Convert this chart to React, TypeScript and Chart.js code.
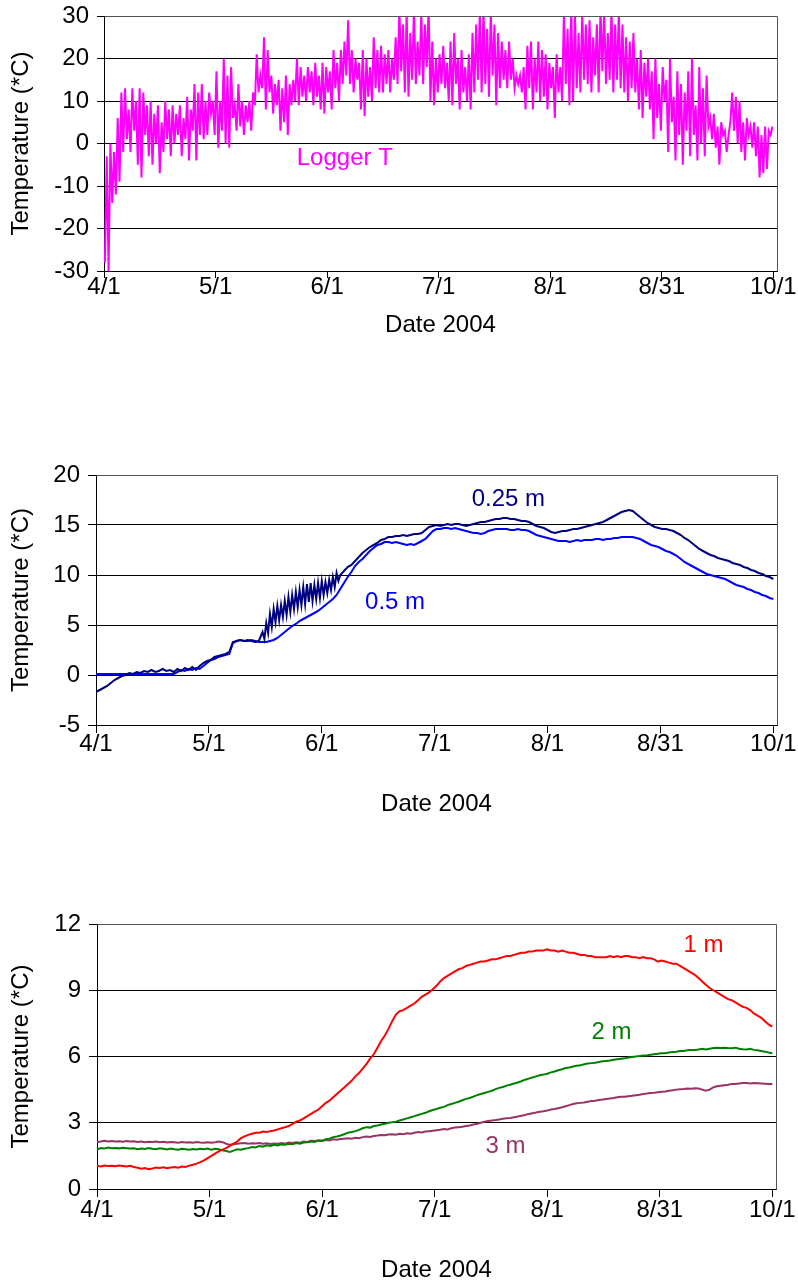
import React, { useEffect, useRef } from "react";
import { Chart, registerables } from "chart.js";

Chart.register(...registerables);

// ---- shared x axis (days since 4/1/2004) ----
const TICK_DAYS = [0, 30.5, 61, 91.5, 122, 152.5, 183];
const TICK_LABELS = ["4/1", "5/1", "6/1", "7/1", "8/1", "8/31", "10/1"];
const X_MAX = 184;

// ---- chart 1: logger air temperature, daily lows and highs (°C) ----
const LOGGER_HIGH = [
  -3, 0, -2, 6, 12, 13, 8, 13, 10, 13,
  12, 9, 10, 7, 9, 5, 10, 8, 9, 7,
  9, 6, 11, 8, 14, 12, 14, 10, 12, 10,
  17, 10, 20, 16, 18, 9, 14, 10, 9, 10,
  12, 21, 16, 25, 22, 16, 14, 15, 13, 16,
  14, 15, 20, 18, 16, 18, 17, 19, 16, 19,
  18, 17, 22, 19, 22, 24, 29, 22, 20, 19,
  22, 20, 18, 25, 22, 23, 21, 22, 20, 25,
  32, 28, 31, 26, 32, 24, 31, 28, 32, 24,
  20, 21, 23, 19, 24, 26, 20, 22, 18, 21,
  26, 28, 31, 32, 27, 31, 28, 26, 24, 22,
  24, 20, 16, 16, 18, 23, 24, 20, 24, 22,
  21, 19, 18, 21, 18, 31, 27, 32, 31, 26,
  31, 28, 29, 25, 28, 32, 31, 26, 32, 28,
  31, 28, 25, 24, 26, 20, 22, 19, 20, 17,
  20, 14, 18, 15, 20, 11, 17, 14, 12, 17,
  20, 9, 18, 13, 16, 6, 7, 4, 5, 3,
  2, 12, 11, 10, 5, 6, 4, 5, 4, 2,
  4, 3, 4,
];
const LOGGER_LOW = [
  -28, -30, -14, -12, -9, -2, 1, -2, 3, -5,
  -8, 2, -3, -5, 0, -7, -2, 1, -3, 0,
  2, -3, 1, -4, 3, -4, 2, 1, 2, 7,
  2, -1, 3, 0, -1, 6, 3, 4, 2, 5,
  3, 9, 12, 13, 8, 12, 7, 9, 3, 5,
  2, 9, 10, 9, 11, 10, 12, 9, 11, 8,
  7, 12, 8, 13, 10, 14, 16, 14, 12, 15,
  8, 6.5, 11, 10, 13, 12, 12, 14, 12, 15,
  14, 17, 12, 11, 15, 14, 16, 14, 18, 10,
  9, 12, 14, 13, 10, 9, 14, 8, 12, 10,
  8, 12, 15, 12, 14, 11, 16, 9, 13, 15,
  13, 15, 13, 14, 12, 8, 13, 8, 12, 10,
  11, 8, 13, 6, 12, 10, 14, 9, 10, 13,
  12, 15, 14, 12, 16, 12, 17, 14, 15, 12,
  15, 13, 12, 10, 13, 12, 8, 6, 11, 8,
  1, 6, 3, 10, -2, 5, -4, 2, -5, 3,
  -3, 2, -4, 0, -3, 4, 1, -1, -5, 2,
  -2, 5, 3, 0, -2, -4, 2, -1, -3, -8,
  -7, -6, 2,
];

// ---- chart 2: soil temperature at 0.25 m and 0.5 m, daily (°C) ----
const T025 = [
  -1.7, -1.5, -1.3, -1.1, -0.8, -0.5, -0.3, -0.1, 0.0, 0.2,
  0.1, 0.3, 0.2, 0.4, 0.3, 0.5, 0.3, 0.4, 0.6, 0.4,
  0.5, 0.3, 0.6, 0.4, 0.7, 0.5, 0.8, 0.5, 0.9, 1.2,
  1.4, 1.5, 1.8, 1.9, 2.0, 2.1, 2.3, 3.3, 3.4, 3.5,
  3.4, 3.5, 3.4, 3.3, 3.4, 4.3, 5.2, 6.1, 6.6, 6.9,
  7.0, 7.4, 7.8, 8.0, 8.3, 8.5, 8.8, 9.1, 9.2, 9.0,
  9.2, 9.4, 9.3, 9.5, 9.8, 10.2, 10.0, 10.4, 10.8, 11.0,
  11.4, 11.8, 12.2, 12.5, 12.8, 13.0, 13.2, 13.5, 13.6, 13.8,
  13.8, 13.9, 13.9, 14.0, 13.9, 14.0, 14.1, 14.1, 14.2, 14.5,
  14.8, 14.9, 15.0, 14.9, 15.0, 15.1, 15.0, 15.1, 15.1, 15.0,
  14.9, 15.0, 15.1, 15.2, 15.3, 15.3, 15.4, 15.5, 15.6, 15.6,
  15.7, 15.7, 15.6, 15.6, 15.5, 15.4, 15.4, 15.3, 15.1, 14.9,
  14.8, 14.7, 14.5, 14.3, 14.2, 14.3, 14.4, 14.4, 14.5, 14.6,
  14.6, 14.7, 14.8, 14.9, 15.0, 15.1, 15.2, 15.3, 15.5, 15.7,
  15.9, 16.1, 16.3, 16.4, 16.5, 16.4, 16.1, 15.8, 15.5, 15.2,
  15.0, 14.8, 14.7, 14.6, 14.6, 14.5, 14.4, 14.2, 14.0, 13.7,
  13.5, 13.2, 12.9, 12.6, 12.4, 12.2, 12.0, 11.9, 11.7, 11.6,
  11.5, 11.4, 11.2, 11.1, 11.0, 10.8, 10.7, 10.5, 10.4, 10.2,
  10.1, 9.9, 9.8, 9.6,
];
// night-time lows of the 0.25 m series during its diurnal swing (days 45..65)
const T025_DIP_START = 45;
const T025_DIP = [
  3.6, 4.2, 4.8, 5.3, 5.5, 5.8, 6.0, 6.3, 6.6, 6.8,
  7.0, 7.1, 7.3, 7.4, 7.6, 7.7, 8.0, 8.2, 8.5, 8.8, 9.4,
];
const T05 = [
  0.1, 0.1, 0.1, 0.1, 0.1, 0.1, 0.1, 0.1, 0.1, 0.1,
  0.1, 0.1, 0.1, 0.1, 0.1, 0.1, 0.1, 0.1, 0.1, 0.1,
  0.1, 0.1, 0.3, 0.5, 0.4, 0.6, 0.5, 0.7, 0.6, 0.9,
  1.2, 1.5, 1.6, 1.8, 1.9, 2.0, 2.1, 3.2, 3.4, 3.5,
  3.4, 3.4, 3.5, 3.4, 3.3, 3.3, 3.3, 3.4, 3.5, 3.7,
  4.0, 4.3, 4.6, 4.9, 5.1, 5.4, 5.6, 5.8, 6.0, 6.2,
  6.4, 6.7, 7.0, 7.3, 7.6, 8.0, 8.6, 9.2, 9.8, 10.3,
  10.9, 11.3, 11.6, 12.0, 12.4, 12.7, 13.0, 13.1, 13.3, 13.3,
  13.2, 13.3, 13.2, 13.1, 13.0, 13.1, 13.0, 13.2, 13.4, 13.6,
  14.0, 14.4, 14.6, 14.6, 14.7, 14.7, 14.6, 14.7, 14.6, 14.5,
  14.4, 14.3, 14.2, 14.2, 14.1, 14.2, 14.4, 14.5, 14.6, 14.6,
  14.6, 14.6, 14.5, 14.5, 14.6, 14.5, 14.5, 14.4, 14.2, 14.0,
  13.9, 13.8, 13.7, 13.6, 13.5, 13.4, 13.4, 13.4, 13.3, 13.4,
  13.5, 13.4, 13.5, 13.5, 13.5, 13.6, 13.6, 13.5, 13.6, 13.6,
  13.7, 13.7, 13.8, 13.8, 13.8, 13.8, 13.7, 13.6, 13.4, 13.2,
  13.0, 12.9, 12.8, 12.6, 12.4, 12.3, 12.1, 11.9, 11.6, 11.3,
  11.1, 10.9, 10.7, 10.5, 10.3, 10.1, 10.0, 9.9, 9.8, 9.7,
  9.6, 9.4, 9.2, 9.0, 8.9, 8.8, 8.6, 8.5, 8.3, 8.2,
  8.0, 7.9, 7.7, 7.6,
];

// ---- chart 3: soil temperature at 1 m, 2 m and 3 m, daily (°C) ----
const T1 = [
  1.05, 1.02, 1.06, 1.04, 1.05, 1.03, 1.06, 1.04, 1.02, 1.05,
  1.0, 0.96, 0.92, 0.95, 0.9, 0.93, 0.97, 0.95, 0.98, 0.94,
  0.97, 1.0, 0.96, 1.02, 1.0, 1.06, 1.1, 1.15, 1.22, 1.3,
  1.4, 1.5, 1.6, 1.7, 1.78, 1.85, 1.95, 2.05, 2.15, 2.3,
  2.38, 2.45, 2.5, 2.55, 2.55, 2.6, 2.58, 2.62, 2.65, 2.7,
  2.75, 2.8, 2.85, 2.95, 3.05, 3.1, 3.2, 3.3, 3.4, 3.5,
  3.6, 3.75, 3.9, 4.0, 4.15, 4.3, 4.45, 4.6, 4.75, 4.9,
  5.1, 5.25, 5.45, 5.65, 5.9, 6.1, 6.4, 6.7, 6.95, 7.25,
  7.6, 7.9, 8.05, 8.1, 8.2, 8.3, 8.4, 8.55, 8.7, 8.8,
  8.9, 9.05, 9.2, 9.4, 9.55, 9.65, 9.75, 9.85, 9.95, 10.0,
  10.1, 10.15, 10.2, 10.25, 10.3, 10.3, 10.35, 10.4, 10.4, 10.45,
  10.5, 10.55, 10.55, 10.6, 10.65, 10.7, 10.7, 10.75, 10.75, 10.8,
  10.8, 10.8, 10.85, 10.8, 10.8, 10.75, 10.8, 10.75, 10.7, 10.7,
  10.65, 10.6, 10.6, 10.55, 10.55, 10.5, 10.5, 10.5, 10.5, 10.55,
  10.5, 10.55, 10.5, 10.55, 10.55, 10.5, 10.5, 10.45, 10.5, 10.45,
  10.45, 10.4, 10.3, 10.35, 10.3, 10.25, 10.2, 10.2, 10.1, 10.0,
  9.9, 9.8, 9.7, 9.55, 9.4, 9.25, 9.1, 9.0, 8.9, 8.8,
  8.7, 8.6, 8.55, 8.45, 8.35, 8.25, 8.2, 8.1, 7.95, 7.85,
  7.75, 7.6, 7.45, 7.35,
];
const T2 = [
  1.78, 1.85, 1.83, 1.88, 1.85, 1.86, 1.84, 1.87, 1.85, 1.83,
  1.84, 1.8, 1.83, 1.81, 1.85, 1.82, 1.8, 1.84, 1.82, 1.79,
  1.83, 1.8, 1.78, 1.82, 1.8, 1.78, 1.81, 1.79, 1.82, 1.8,
  1.83, 1.78, 1.82, 1.8, 1.75, 1.72, 1.68, 1.74, 1.8, 1.78,
  1.82, 1.85, 1.9, 1.88, 1.95, 1.92, 1.98, 1.95, 2.0, 1.97,
  2.02, 2.0, 2.05, 2.03, 2.08, 2.05, 2.1, 2.12, 2.15, 2.13,
  2.2, 2.18, 2.25, 2.28, 2.35, 2.38, 2.42, 2.48, 2.55, 2.58,
  2.62, 2.68, 2.75, 2.8, 2.78, 2.85, 2.88, 2.92, 2.95, 3.0,
  3.02, 3.05, 3.1, 3.15, 3.2, 3.25, 3.3, 3.35, 3.4, 3.45,
  3.52, 3.58, 3.62, 3.68, 3.72, 3.8, 3.85, 3.9, 3.95, 4.02,
  4.08, 4.12, 4.18, 4.25, 4.3, 4.35, 4.4, 4.45, 4.52, 4.58,
  4.62, 4.68, 4.72, 4.78, 4.82, 4.88, 4.95, 5.0, 5.05, 5.1,
  5.15, 5.18, 5.22, 5.28, 5.32, 5.38, 5.42, 5.48, 5.5, 5.55,
  5.58, 5.6, 5.65, 5.68, 5.7, 5.72, 5.75, 5.78, 5.8, 5.82,
  5.85, 5.88, 5.9, 5.92, 5.95, 5.98, 6.0, 6.02, 6.05, 6.05,
  6.08, 6.1, 6.12, 6.15, 6.15, 6.18, 6.2, 6.22, 6.25, 6.25,
  6.28, 6.3, 6.3, 6.32, 6.35, 6.32, 6.35, 6.38, 6.4, 6.38,
  6.4, 6.38, 6.37, 6.4, 6.35, 6.33, 6.32, 6.35, 6.3, 6.28,
  6.25, 6.22, 6.18, 6.15,
];
const T3 = [
  2.12, 2.15, 2.18, 2.15, 2.17, 2.15, 2.16, 2.14, 2.17, 2.15,
  2.16, 2.13, 2.15, 2.12, 2.14, 2.13, 2.15, 2.12, 2.14, 2.11,
  2.13, 2.12, 2.1, 2.13, 2.11, 2.12, 2.1, 2.13, 2.11, 2.1,
  2.12, 2.1, 2.12, 2.15, 2.12, 2.05, 2.0, 2.03, 2.05, 2.07,
  2.08, 2.05, 2.07, 2.06, 2.08, 2.05, 2.07, 2.04, 2.06, 2.05,
  2.08, 2.05, 2.1, 2.08, 2.12, 2.1, 2.15, 2.13, 2.18, 2.17,
  2.2, 2.18, 2.22, 2.2, 2.25, 2.23, 2.26, 2.28, 2.3, 2.28,
  2.32, 2.3, 2.35, 2.38, 2.36, 2.4, 2.42, 2.45, 2.43, 2.47,
  2.48, 2.46, 2.5, 2.48, 2.52, 2.5, 2.55, 2.58, 2.56, 2.6,
  2.62, 2.64, 2.66, 2.68, 2.72, 2.7, 2.75, 2.78, 2.8, 2.82,
  2.85, 2.88, 2.92, 2.95, 3.0, 3.05, 3.08, 3.1, 3.12, 3.15,
  3.18, 3.2, 3.22, 3.25, 3.28, 3.32, 3.35, 3.4, 3.43, 3.46,
  3.5, 3.52, 3.55, 3.6, 3.62, 3.66, 3.7, 3.75, 3.8, 3.85,
  3.88, 3.9, 3.92, 3.95, 3.98, 4.0, 4.03, 4.05, 4.08, 4.1,
  4.12, 4.15, 4.18, 4.18, 4.2, 4.22, 4.25, 4.27, 4.3, 4.32,
  4.35, 4.36, 4.38, 4.4, 4.42, 4.45, 4.47, 4.5, 4.52, 4.53,
  4.55, 4.54, 4.56, 4.55, 4.5, 4.45, 4.5, 4.6, 4.65, 4.68,
  4.7, 4.72, 4.75, 4.76, 4.78, 4.8, 4.8, 4.78, 4.8, 4.79,
  4.78, 4.77, 4.76, 4.75,
];

const FONT = "'Liberation Sans', Arial, Helvetica, sans-serif";
const FONT_SIZE = 24;
const LINE_H = FONT_SIZE * 1.2;

// build {x,y} points
const daily = (vals: number[]) => vals.map((v, i) => ({ x: i, y: v }));
const loggerPoints = () => {
  const pts: { x: number; y: number }[] = [];
  LOGGER_LOW.forEach((lo, d) => {
    pts.push({ x: d + 0.25, y: lo });
    pts.push({ x: d + 0.75, y: LOGGER_HIGH[d] });
  });
  return pts;
};
const t025Points = () => {
  const pts: { x: number; y: number }[] = [];
  T025.forEach((v, d) => {
    pts.push({ x: d, y: v });
    const k = d - T025_DIP_START;
    if (k >= 0 && k < T025_DIP.length) pts.push({ x: d + 0.5, y: T025_DIP[k] });
  });
  return pts;
};

const framePlugin = {
  id: "frame",
  afterDraw(chart: any) {
    const { ctx, chartArea } = chart;
    const r = Math.round(chartArea.right) + 0.5;
    const t = Math.round(chartArea.top) + 0.5;
    const b = Math.round(chartArea.bottom) + 0.5;
    ctx.save();
    ctx.strokeStyle = "#555";
    ctx.lineWidth = 1;
    ctx.beginPath();
    ctx.moveTo(Math.round(chartArea.left) + 0.5, t);
    ctx.lineTo(r, t);
    ctx.lineTo(r, b);
    ctx.stroke();
    ctx.restore();
  },
};

const labelPlugin = {
  id: "seriesLabels",
  afterDatasetsDraw(chart: any, _args: any, opts: any) {
    const { ctx, scales } = chart;
    ctx.save();
    ctx.font = `${FONT_SIZE}px ${FONT}`;
    ctx.textAlign = "left";
    ctx.textBaseline = "alphabetic";
    (opts.items || []).forEach((it: any) => {
      ctx.fillStyle = it.color;
      ctx.fillText(it.text, scales.x.getPixelForValue(it.x), scales.y.getPixelForValue(it.y));
    });
    ctx.restore();
  },
};

type Layout = {
  top: number;
  height: number;
  left: number;
  right: number;
  areaTop: number;
  areaBottom: number;
  tickLen: number;
  xLabelY: number;
  xTitleY: number;
};

function makeConfig(L: Layout, datasets: any[], yMin: number, yMax: number, yStep: number, labels: any[]) {
  const canvasBottom = L.top + L.height;
  const xHeight = canvasBottom - L.areaBottom;
  return {
    type: "line",
    data: { datasets },
    plugins: [framePlugin, labelPlugin],
    options: {
      animation: false,
      responsive: false,
      maintainAspectRatio: false,
      parsing: true,
      layout: { padding: { top: L.areaTop - L.top, right: 798 - L.right, left: 0, bottom: 0 } },
      plugins: {
        legend: { display: false },
        tooltip: { enabled: false },
        seriesLabels: { items: labels },
      },
      elements: { point: { radius: 0 }, line: { tension: 0 } },
      scales: {
        x: {
          type: "linear",
          min: 0,
          max: X_MAX,
          afterBuildTicks: (s: any) => {
            s.ticks = TICK_DAYS.map((v) => ({ value: v }));
          },
          afterFit: (s: any) => {
            s.height = xHeight;
            s.paddingLeft = 0;
            s.paddingRight = 0;
            s.paddingTop = 0;
            s.paddingBottom = 0;
          },
          grid: { drawOnChartArea: false, drawTicks: true, tickLength: L.tickLen, color: "#000", lineWidth: 1 },
          border: { display: true, color: "#000", width: 1 },
          ticks: {
            autoSkip: false,
            maxRotation: 0,
            minRotation: 0,
            color: "#000",
            font: { family: FONT, size: FONT_SIZE, lineHeight: 1.2 },
            padding: L.xLabelY - L.areaBottom - L.tickLen - LINE_H / 2,
            callback: (_v: any, i: number) => TICK_LABELS[i],
          },
          title: {
            display: true,
            text: "Date 2004",
            color: "#000",
            font: { family: FONT, size: FONT_SIZE, lineHeight: 1.2 },
            padding: { top: 0, bottom: canvasBottom - L.xTitleY - LINE_H / 2 },
          },
        },
        y: {
          type: "linear",
          min: yMin,
          max: yMax,
          afterFit: (s: any) => {
            s.width = L.left;
            s.paddingLeft = 0;
            s.paddingRight = 0;
            s.paddingTop = 0;
            s.paddingBottom = 0;
          },
          grid: { drawOnChartArea: true, drawTicks: true, tickLength: L.tickLen, color: "#000", lineWidth: 1 },
          border: { display: true, color: "#000", width: 1 },
          ticks: {
            stepSize: yStep,
            color: "#000",
            padding: 8,
            font: { family: FONT, size: FONT_SIZE, lineHeight: 1.2 },
          },
          title: {
            display: true,
            text: "Temperature (*C)",
            color: "#000",
            font: { family: FONT, size: FONT_SIZE, lineHeight: 1.2 },
            padding: { top: 7, bottom: 0 },
          },
        },
      },
    },
  };
}

function ChartBox({ layout, build }: { layout: Layout; build: () => any }) {
  const ref = useRef<HTMLCanvasElement | null>(null);
  useEffect(() => {
    if (!ref.current) return;
    const chart = new Chart(ref.current, build());
    return () => chart.destroy();
  }, []);
  return (
    <canvas
      ref={ref}
      width={798}
      height={layout.height}
      style={{ position: "absolute", left: 0, top: layout.top, width: 798, height: layout.height }}
    />
  );
}

const L1: Layout = { top: 0, height: 345, left: 104, right: 777, areaTop: 16, areaBottom: 271, tickLen: 7, xLabelY: 287, xTitleY: 325 };
const L2: Layout = { top: 440, height: 385, left: 96, right: 777, areaTop: 475, areaBottom: 725, tickLen: 8, xLabelY: 744, xTitleY: 804 };
const L3: Layout = { top: 890, height: 392, left: 97, right: 776, areaTop: 924, areaBottom: 1189, tickLen: 8, xLabelY: 1210, xTitleY: 1270 };

export default function App() {
  return (
    <div style={{ position: "absolute", left: 0, top: 0, width: 798, height: 1282, background: "#fff", overflow: "hidden" }}>
      <ChartBox
        layout={L1}
        build={() =>
          makeConfig(
            L1,
            [{ label: "Logger T", data: loggerPoints(), borderColor: "#FF00FF", borderWidth: 2 }],
            -30, 30, 10,
            [{ text: "Logger T", x: 52.7, y: -5, color: "#FF00FF" }]
          )
        }
      />
      <ChartBox
        layout={L2}
        build={() =>
          makeConfig(
            L2,
            [
              { label: "0.25 m", data: t025Points(), borderColor: "#000080", borderWidth: 2 },
              { label: "0.5 m", data: daily(T05), borderColor: "#0000FF", borderWidth: 2 },
            ],
            -5, 20, 5,
            [
              { text: "0.25 m", x: 101.5, y: 16.9, color: "#000080" },
              { text: "0.5 m", x: 72.7, y: 6.6, color: "#0000FF" },
            ]
          )
        }
      />
      <ChartBox
        layout={L3}
        build={() =>
          makeConfig(
            L3,
            [
              { label: "1 m", data: daily(T1), borderColor: "#FF0000", borderWidth: 2 },
              { label: "2 m", data: daily(T2), borderColor: "#008000", borderWidth: 2 },
              { label: "3 m", data: daily(T3), borderColor: "#993366", borderWidth: 2 },
            ],
            0, 12, 3,
            [
              { text: "1 m", x: 158.9, y: 10.75, color: "#FF0000" },
              { text: "2 m", x: 134, y: 6.78, color: "#008000" },
              { text: "3 m", x: 105.3, y: 1.62, color: "#993366" },
            ]
          )
        }
      />
    </div>
  );
}
